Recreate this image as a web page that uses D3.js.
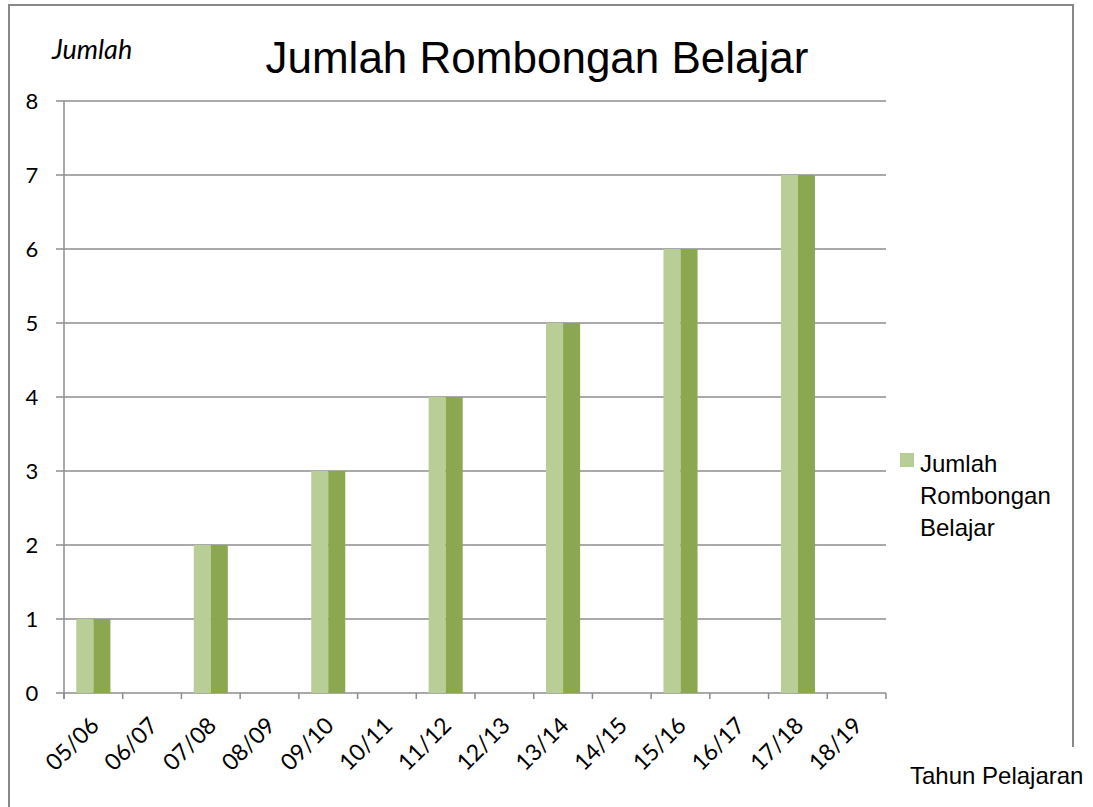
<!DOCTYPE html>
<meta charset="utf-8">
<title>Jumlah Rombongan Belajar</title>
<script src="https://d3js.org/d3.v7.min.js"></script>
<style>
  body { margin: 0; background: #fff; }
  .narrow { font-family: "Liberation Sans Narrow", "Arial Narrow", "Liberation Sans", sans-serif; }
  .lbl { font-family: Lato, "Open Sans", sans-serif; }
</style>
<body>
</body>
<script>
var years = ["05/06", "06/07", "07/08", "08/09", "09/10", "10/11", "11/12",
             "12/13", "13/14", "14/15", "15/16", "16/17", "17/18", "18/19"];
var rombel = [1, 0, 2, 0, 3, 0, 4, 0, 5, 0, 6, 0, 7, 0];
var yTicks = [0, 1, 2, 3, 4, 5, 6, 7, 8];
var seriesName = ["Jumlah", "Rombongan", "Belajar"];

var W = 1093, H = 807;
var svg = d3.select("body").append("svg")
            .attr("width", W)
            .attr("height", H);

// outer frame (bottom edge is off the picture)
svg.append("path")
   .attr("d", "M9,807 V5 H1073 V747")
   .attr("fill", "none")
   .attr("stroke", "#888")
   .attr("stroke-width", 2);

var x = d3.scaleBand().domain(years).range([64, 886])
          .paddingInner(0.42).paddingOuter(0.21);
var y = d3.scaleLinear().domain([0, 8]).range([693, 101]);

// grid lines
svg.append("g").selectAll("line")
   .data(yTicks)
   .enter().append("line")
   .attr("x1", 56).attr("x2", 886)
   .attr("y1", function (d) { return y(d); })
   .attr("y2", function (d) { return y(d); })
   .attr("stroke", "#8c8c8c")
   .attr("stroke-width", 1.5);

// y axis line
svg.append("line")
   .attr("x1", 64).attr("x2", 64)
   .attr("y1", y(8)).attr("y2", y(0) + 6)
   .attr("stroke", "#8c8c8c").attr("stroke-width", 1.5);

// x ticks at category boundaries
var step = x.step();
var bounds = d3.range(years.length + 1).map(function (i) { return 64 + i * step; });
svg.append("g").selectAll("line")
   .data(bounds)
   .enter().append("line")
   .attr("x1", function (d) { return d; })
   .attr("x2", function (d) { return d; })
   .attr("y1", y(0)).attr("y2", y(0) + 6)
   .attr("stroke", "#8c8c8c").attr("stroke-width", 1.5);

// bars: light left half, darker right half
var bars = svg.append("g").selectAll("g")
   .data(years.map(function (c, i) { return {c: c, v: rombel[i]}; }))
   .enter().append("g");
bars.append("rect")
    .attr("x", function (d) { return x(d.c); })
    .attr("y", function (d) { return y(d.v); })
    .attr("width", x.bandwidth() / 2)
    .attr("height", function (d) { return y(0) - y(d.v); })
    .attr("fill", "#b9ce96");
bars.append("rect")
    .attr("x", function (d) { return x(d.c) + x.bandwidth() / 2; })
    .attr("y", function (d) { return y(d.v); })
    .attr("width", x.bandwidth() / 2)
    .attr("height", function (d) { return y(0) - y(d.v); })
    .attr("fill", "#8ba750");

// y tick labels
svg.append("g").selectAll("text")
   .data(yTicks)
   .enter().append("text")
   .attr("class", "lbl")
   .attr("x", 32)
   .attr("y", function (d) { return y(d); })
   .attr("dy", "0.36em")
   .attr("text-anchor", "middle")
   .attr("font-size", 22)
   .text(function (d) { return d; });

// x tick labels, rotated
svg.append("g").selectAll("text")
   .data(years)
   .enter().append("text")
   .attr("class", "lbl")
   .attr("text-anchor", "end")
   .attr("font-size", 23)
   .attr("transform", function (d) {
     var cx = x(d) + x.bandwidth() / 2;
     return "translate(" + (cx + 7) + "," + 727 + ") rotate(-45)";
   })
   .text(function (d) { return d; });

// title
svg.append("text")
   .attr("class", "narrow")
   .attr("x", 537).attr("y", 73)
   .attr("text-anchor", "middle")
   .attr("font-size", 44)
   .text("Jumlah Rombongan Belajar");

// axis titles
svg.append("text")
   .attr("class", "lbl")
   .attr("x", 52).attr("y", 59)
   .attr("font-size", 27)
   .attr("font-style", "italic")
   .text("Jumlah");
svg.append("text")
   .attr("class", "narrow")
   .attr("x", 910).attr("y", 784)
   .attr("font-size", 24)
   .text("Tahun Pelajaran");

// legend
svg.append("rect")
   .attr("x", 900).attr("y", 453)
   .attr("width", 14).attr("height", 14)
   .attr("fill", "#b9ce96");
svg.append("g").selectAll("text")
   .data(seriesName)
   .enter().append("text")
   .attr("class", "narrow")
   .attr("x", 920)
   .attr("y", function (d, i) { return 472 + i * 32; })
   .attr("font-size", 24)
   .text(function (d) { return d; });
</script>
